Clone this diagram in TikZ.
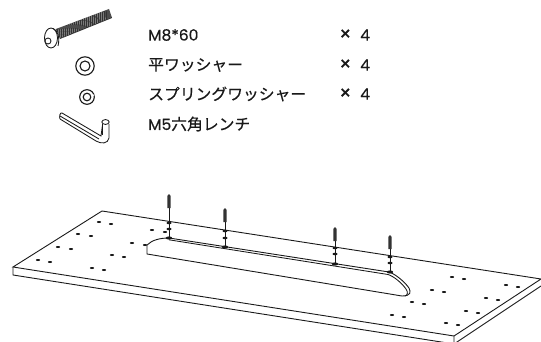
\documentclass[tikz,border=0pt]{standalone}
\usepackage{fontspec}
\setmainfont[FakeBold=0.4]{Noto Sans CJK JP}
\newfontfamily\latinfont[FakeBold=0.4]{Poppins}
\tikzset{
  partlabel/.style={anchor=west, inner sep=0pt, text=black!90, font=\fontsize{15.8}{18}\selectfont},
  latinlabel/.style={partlabel, font=\fontsize{15.5}{18}\latinfont},
  timeslabel/.style={partlabel, font=\fontsize{19}{18}\latinfont},
  partline/.style={line width=0.85pt, black!90},
  platedge/.style={line width=0.9pt, black!90},
  platehole/.style={black!90, fill=black!90},
}
\begin{document}
\begin{tikzpicture}[x=1pt, y=-1pt]
  \useasboundingbox (0,0) rectangle (541,342);

  % Parts list
  \node[latinlabel] (boltlabel) at (148,35) {M8*60};
  \node[partlabel] (washerlabel) at (148,65) {平ワッシャー};
  \node[partlabel] (springlabel) at (148,94) {スプリングワッシャー};
  \node[partlabel] (wrenchlabel) at (148,124) {{\fontsize{15.5}{18}\latinfont M5}六角レンチ};
  \foreach \y/\n in {35/a, 65/b, 94/c} {
      \node[timeslabel] (times\n) at (339,\y) {×};
      \node[latinlabel] (count\n) at (360,\y) {4};
    }

  % Bolt
  \fill[black!80] (56,29) -- (109,9) -- (112,18) -- (60,39) -- cycle;
  \foreach \i in {0, 0.04, ..., 1.0} {
      \draw[white, line width=0.2pt] ({58+52*\i},{39-21*\i}) -- ({59+51*\i},{28-20*\i});
    }
  \draw[partline, fill=white] (51,38) ellipse [x radius=6.5, y radius=10];
  \draw[partline, fill=white] (48,41) circle (3);
  \draw[partline] (53,28.5) .. controls (58,30) and (60,38) .. (58,46);

  % Flat washer
  \draw[line width=1.1pt, black!90] (85,66) circle (9.2);
  \draw[line width=1.1pt, black!90] (85,66) circle (5);

  % Spring washer
  \draw[line width=1.1pt, black!90] (87,97) circle (7.3);
  \draw[line width=1.1pt, black!90] (87,97) circle (3.8);
  \draw[white, line width=1.2pt] (91,96) -- (94,95);

  % Wrench
  \draw[partline] (62,113) -- (101,136) -- (102.5,125);
  \draw[partline] (60,116) -- (99,139);
  \draw[partline] (62,113) .. controls (60,112) and (59,117) .. (60,119);
  \draw[partline] (60,119) -- (96,141) .. controls (101,144) and (108,144) .. (109,138) -- (109,124);
  \draw[partline] (102,124) -- (102,135);
  \draw[partline] (105.5,122) ellipse [x radius=3.7, y radius=2.4];

  % Table top
  \coordinate (backleft) at (102,211);
  \coordinate (left) at (13,267);
  \coordinate (leftlow) at (13,275);
  \coordinate (front) at (454,336);
  \coordinate (frontlow) at (454,344);
  \coordinate (backright) at (541,279);
  \coordinate (rightlow) at (541,286);
  \draw[platedge] (backleft) -- (backright) -- (front) -- (left) -- cycle;
  \draw[platedge] (left) -- (leftlow) -- (frontlow) -- (front);
  \draw[platedge] (frontlow) -- (rightlow);

  % Holes
  \foreach \x/\y in {99/222, 111/224, 78/234, 91/236, 58/247, 71/249, 38/260, 50/262,
      92/268, 104/270, 112/255, 124/257, 132/243, 145/245, 152/230, 165/232,
      452/277, 464/279, 432/290, 444/292, 412/302, 424/304, 392/315, 404/317,
      506/285, 518/287, 486/298, 498/300, 466/311, 478/313, 446/323, 458/325} {
      \fill[platehole] (\x,\y) ellipse [x radius=2.2, y radius=1];
    }

  % Rail
  \draw[platedge] (147,245) -- (147,254) -- (402,296);
  \draw[platedge] (147,245) .. controls (152,240) and (160,238) .. (169,238) -- (389,272)
    .. controls (395,274) and (404,281) .. (409,288) .. controls (411,292) and (411,296) .. (402,296);
  \draw[partline] (169,239.8) -- (388,274.5) .. controls (393,276) and (401,282) .. (406,289)
    .. controls (408,292) and (408,295) .. (405,296);

  % Screws
  \foreach \x/\top/\wa/\wb/\base in {169/194/223/229/238, 225/208/231/238/247, 335/227/248/254/264, 390/235/257/263/272} {
      \fill[black!80] (\x-1.7,\top+2) -- (\x,\top) -- (\x+1.7,\top+2) -- (\x+1.7,\top+14) -- (\x-1.7,\top+14) -- cycle;
      \draw[black!90, line width=0.9pt] (\x,\top+14) -- (\x,\base);
      \fill[platehole] (\x,\wa) ellipse [x radius=2.5, y radius=1.3];
      \fill[platehole] (\x,\wb) ellipse [x radius=2.5, y radius=1.3];
      \fill[platehole] (\x,\base) ellipse [x radius=3.2, y radius=1.6];
    }
\end{tikzpicture}
\end{document}
